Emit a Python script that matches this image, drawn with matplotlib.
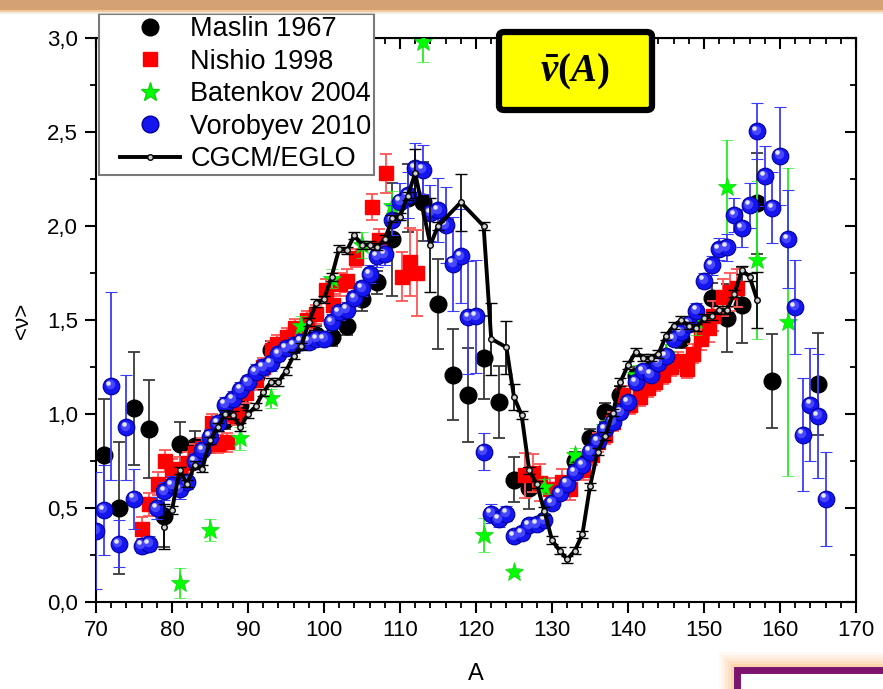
import matplotlib
matplotlib.use("Agg")
import matplotlib.pyplot as plt
import matplotlib.transforms as mtransforms
from matplotlib.lines import Line2D
from matplotlib.legend_handler import HandlerLine2D
from matplotlib.patches import Rectangle, FancyBboxPatch
from matplotlib.ticker import MultipleLocator, FuncFormatter

plt.rcParams["font.family"] = ["Liberation Sans", "DejaVu Sans"]
plt.rcParams["mathtext.fontset"] = "custom"
plt.rcParams["mathtext.it"] = "Liberation Serif:italic:bold"
plt.rcParams["mathtext.rm"] = "Liberation Serif:bold"

# Maslin 1967
maslin_a = [71, 73, 75, 77, 79, 81, 83, 85, 87, 89, 91, 93, 95, 97, 99, 101, 103,
            105, 107, 109, 111, 113, 115, 117, 119, 121, 123, 125, 127, 133, 135,
            137, 139, 141, 143, 145, 147, 149, 151, 153, 155, 157, 159, 165]
maslin_nu = [0.78, 0.50, 1.03, 0.92, 0.46, 0.84, 0.83, 0.85, 0.97, 1.05, 1.20, 1.34,
             1.36, 1.40, 1.42, 1.41, 1.47, 1.61, 1.70, 1.93, 2.15, 2.13, 1.585, 1.21,
             1.10, 1.30, 1.065, 0.65, 0.605, 0.75, 0.87, 1.01, 1.10, 1.20, 1.24,
             1.26, 1.40, 1.50, 1.615, 1.51, 1.58, 2.12, 1.175, 1.16]
maslin_err = [0.30, 0.35, 0.30, 0.26, 0.17, 0.12, 0.08, 0.06, 0.05, 0.05, 0.05, 0.05,
              0.05, 0.05, 0.05, 0.05, 0.05, 0.06, 0.06, 0.30, 0.18, 0.21, 0.24, 0.24,
              0.25, 0.22, 0.19, 0.12, 0.11, 0.05, 0.05, 0.05, 0.05, 0.05, 0.05,
              0.05, 0.05, 0.06, 0.08, 0.18, 0.20, 0.27, 0.25, 0.27]

# Nishio 1998
nishio_a = [76.0, 77.0, 78.2, 79.1, 80.0, 81.0, 82.1, 83.0, 84.0, 85.2, 86.1, 87.2,
            88.0, 88.5, 89.8, 91.1, 92.0, 93.1, 93.8, 95.1, 96.2, 97.7, 99.0, 100.3,
            101.2, 102.1, 103.0, 104.2, 106.3, 107.3, 108.2, 110.2, 111.3, 112.3,
            126.4, 127.5, 128.4, 129.7, 131.3, 132.4, 134.1, 135.2, 136.0, 137.0,
            138.0, 139.4, 140.3, 141.6, 142.6, 143.6, 144.6, 145.6, 146.6, 147.7,
            148.6, 149.6, 150.6, 151.2, 152.5, 153.4, 154.3]
nishio_nu = [0.39, 0.52, 0.63, 0.75, 0.70, 0.71, 0.74, 0.79, 0.82, 0.95, 0.84, 0.85,
             1.00, 0.99, 1.11, 1.18, 1.25, 1.34, 1.37, 1.41, 1.455, 1.50, 1.53, 1.66,
             1.58, 1.69, 1.71, 1.83, 2.10, 1.925, 2.28, 1.73, 1.81, 1.75,
             0.675, 0.685, 0.635, 0.60, 0.64, 0.60, 0.70, 0.78, 0.85, 0.89,
             0.96, 1.10, 1.05, 1.09, 1.14, 1.17, 1.21, 1.25, 1.28, 1.24,
             1.32, 1.40, 1.455, 1.52, 1.62, 1.65, 1.67]
nishio_err = [0.06, 0.06, 0.06, 0.06, 0.06, 0.06, 0.06, 0.05, 0.05, 0.05, 0.05, 0.05,
              0.05, 0.05, 0.05, 0.05, 0.05, 0.05, 0.05, 0.05, 0.05, 0.05, 0.05, 0.06,
              0.06, 0.06, 0.06, 0.05, 0.07, 0.06, 0.105, 0.13, 0.18, 0.23,
              0.12, 0.10, 0.10, 0.06, 0.07, 0.06, 0.05, 0.05, 0.05, 0.05,
              0.05, 0.05, 0.05, 0.05, 0.05, 0.05, 0.05, 0.05, 0.05, 0.05,
              0.05, 0.06, 0.07, 0.08, 0.10, 0.10, 0.10]

# Batenkov 2004
batenkov_a = [81, 85, 89, 93, 97, 101, 105, 109, 113, 121, 125, 129, 133, 137, 141,
              145, 149, 153, 157, 161]
batenkov_nu = [0.10, 0.383, 0.87, 1.083, 1.47, 1.72, 1.90, 2.106, 2.98, 0.356, 0.16,
               0.613, 0.78, 0.93, 1.21, 1.32, 1.50, 2.21, 1.82, 1.49]
batenkov_err = [0.08, 0.06, 0.06, 0.05, 0.05, 0.05, 0.07, 0.08, 0.11, 0.09, 0.02,
                0.04, 0.04, 0.04, 0.05, 0.05, 0.08, 0.25, 0.42, 0.82]

# Vorobyev 2010
vorobyev_a = [70, 71, 72, 73, 74, 75, 76, 77, 78, 79, 80, 81, 82, 83, 84, 85, 86, 87,
              88, 89, 90, 91, 92, 93, 94, 95, 96, 97, 98, 99, 100, 101, 102, 103,
              104, 105, 106, 107, 108, 109, 110, 111, 112, 113, 114, 115, 116, 117,
              118, 119, 120, 121, 122, 123, 124, 125, 126, 127, 128, 129, 130, 131,
              132, 133, 134, 135, 136, 137, 138, 139, 140, 141, 142, 143, 144, 145,
              146, 147, 148, 149, 150, 151, 152, 153, 154, 155, 156, 157, 158, 159,
              160, 161, 162, 163, 164, 165, 166]
vorobyev_nu = [0.38, 0.49, 1.15, 0.31, 0.93, 0.55, 0.30, 0.31, 0.50, 0.59, 0.62, 0.60,
               0.64, 0.75, 0.81, 0.88, 0.95, 1.05, 1.08, 1.13, 1.17, 1.225, 1.25,
               1.27, 1.32, 1.35, 1.367, 1.385, 1.385, 1.40, 1.40, 1.49, 1.54, 1.555,
               1.615, 1.67, 1.745, 1.84, 1.85, 2.03, 2.13, 2.165, 2.31, 2.30, 2.07,
               2.085, 2.005, 1.80, 1.84, 1.515, 1.52, 0.80, 0.47, 0.44, 0.47, 0.35,
               0.365, 0.41, 0.415, 0.436, 0.528, 0.578, 0.63, 0.69, 0.73, 0.80, 0.856,
               0.92, 0.96, 1.01, 1.065, 1.17, 1.23, 1.21, 1.27, 1.31, 1.40, 1.435,
               1.48, 1.55, 1.71, 1.79, 1.878, 1.886, 2.06, 1.99, 2.11, 2.505, 2.266,
               2.097, 2.374, 1.93, 1.57, 0.89, 1.05, 0.99, 0.55]
vorobyev_err = [0.31, 0.24, 0.50, 0.125, 0.28, 0.16, 0.04, 0.04, 0.06, 0.05, 0.05,
                0.05, 0.04, 0.04, 0.04, 0.04, 0.04, 0.04, 0.04, 0.04, 0.04, 0.04,
                0.04, 0.04, 0.04, 0.04, 0.04, 0.04, 0.04, 0.04, 0.04, 0.04, 0.04,
                0.04, 0.04, 0.04, 0.05, 0.06, 0.06, 0.08, 0.10, 0.12, 0.13, 0.13,
                0.15, 0.17, 0.20, 0.25, 0.25, 0.30, 0.30, 0.10, 0.05, 0.04, 0.04,
                0.03, 0.03, 0.03, 0.03, 0.03, 0.03, 0.03, 0.03, 0.03, 0.03, 0.03,
                0.03, 0.03, 0.03, 0.03, 0.03, 0.03, 0.03, 0.03, 0.03, 0.03, 0.03,
                0.03, 0.03, 0.04, 0.04, 0.05, 0.06, 0.07, 0.09, 0.10, 0.12, 0.15,
                0.16, 0.19, 0.26, 0.26, 0.25, 0.30, 0.30, 0.33, 0.25]

# CGCM/EGLO calculation
cgcm_a = [79, 80, 81, 82, 83, 84, 85, 86, 87, 88, 89, 90, 91, 92, 93, 94, 95, 96, 97,
          98, 99, 100, 101, 102, 103, 104, 105, 106, 107, 108, 109, 110, 111, 112,
          114, 115, 118, 121, 122, 124, 125, 126, 127, 128, 129, 130, 131, 132, 133,
          134, 135, 136, 137, 138, 139, 140, 141, 142, 143, 144, 145, 146, 147, 148,
          149, 150, 151, 152, 153, 154, 155, 156, 157]
cgcm_nu = [0.40, 0.49, 0.70, 0.63, 0.73, 0.71, 0.86, 0.93, 1.00, 0.995, 0.93, 1.00,
           1.04, 1.115, 1.17, 1.17, 1.23, 1.31, 1.36, 1.49, 1.59, 1.61, 1.73, 1.88,
           1.87, 1.95, 1.90, 1.90, 1.89, 1.93, 2.04, 2.05, 2.16, 2.28, 1.90, 2.00,
           2.126, 2.00, 1.40, 1.355, 1.09, 0.995, 0.70, 0.626, 0.484, 0.33, 0.273,
           0.227, 0.273, 0.36, 0.615, 0.80, 0.883, 1.007, 1.17, 1.26, 1.33, 1.30,
           1.30, 1.32, 1.415, 1.47, 1.50, 1.47, 1.46, 1.51, 1.52, 1.553, 1.553, 1.64,
           1.766, 1.73, 1.606]
cgcm_err = [0.12, 0.02, 0.02, 0.02, 0.02, 0.02, 0.02, 0.02, 0.02, 0.02, 0.02, 0.02,
            0.02, 0.02, 0.02, 0.02, 0.02, 0.02, 0.02, 0.02, 0.02, 0.02, 0.02, 0.02,
            0.02, 0.02, 0.02, 0.02, 0.02, 0.02, 0.02, 0.02, 0.02, 0.13, 0.25, 0.02,
            0.15, 0.02, 0.19, 0.14, 0.07, 0.02, 0.02, 0.02, 0.02, 0.02, 0.02, 0.02,
            0.02, 0.02, 0.02, 0.02, 0.02, 0.02, 0.02, 0.02, 0.02, 0.02, 0.02, 0.02,
            0.02, 0.02, 0.02, 0.02, 0.02, 0.02, 0.02, 0.02, 0.02, 0.02, 0.02, 0.02,
            0.15]

W, H = 883, 689


def fx(x):
    return x / W


def fy(y):
    return 1 - y / H


fig = plt.figure(figsize=(W / 100, H / 100), dpi=100)
ax = fig.add_axes([fx(96), fy(602), fx(856) - fx(96), fy(38) - fy(602)])

eb = dict(capsize=4, elinewidth=1.3, capthick=1.3, linestyle="none")
ax.errorbar(maslin_a, maslin_nu, yerr=maslin_err, fmt="o", ms=12, color="black",
            ecolor="#3a3a3a", zorder=2, **eb)
ax.errorbar(nishio_a, nishio_nu, yerr=nishio_err, fmt="s", ms=9.5, color="#ff0000",
            mec="#ff0000", ecolor="#ff5555", zorder=3, **eb)
ax.errorbar(batenkov_a, batenkov_nu, yerr=batenkov_err, fmt="*", ms=14,
            color="#00ff00", mec="#10d010", mew=0.5, ecolor="#22ee22", zorder=4, **eb)
ax.errorbar(vorobyev_a, vorobyev_nu, yerr=vorobyev_err, fmt="o", ms=12,
            color="#1515f0", mec="#0000a0", mew=0.8, ecolor="#3b3bff", zorder=5, **eb)

# shading on the blue spheres
shift1 = ax.transData + mtransforms.ScaledTranslation(-1 / 72, 1 / 72, fig.dpi_scale_trans)
shift2 = ax.transData + mtransforms.ScaledTranslation(-2 / 72, 2.3 / 72, fig.dpi_scale_trans)
ax.plot(vorobyev_a, vorobyev_nu, "o", ms=6.8, color="#4d4dff", mew=0, alpha=0.9,
        transform=shift1, zorder=5.1)
ax.plot(vorobyev_a, vorobyev_nu, "o", ms=3.3, color="#e6e6ff", mew=0,
        transform=shift2, zorder=5.2)

ax.errorbar(cgcm_a, cgcm_nu, yerr=cgcm_err, fmt="-o", color="black", lw=2.8,
            ms=4, mfc="#d0d0d0", mec="black", mew=1, ecolor="black", capsize=4,
            elinewidth=1.2, capthick=1.2, zorder=6)

ax.set_xlim(70, 170)
ax.set_ylim(0, 3.0)
ax.xaxis.set_major_locator(MultipleLocator(10))
ax.xaxis.set_minor_locator(MultipleLocator(2))
ax.yaxis.set_major_locator(MultipleLocator(0.5))
ax.yaxis.set_minor_locator(MultipleLocator(0.25))
ax.yaxis.set_major_formatter(FuncFormatter(lambda v, p: f"{v:.1f}".replace(".", ",")))
ax.tick_params(which="major", direction="out", length=8, width=1.5, labelsize=16,
               pad=5)
ax.tick_params(which="minor", direction="out", length=4.5, width=1.3)
for s in ax.spines.values():
    s.set_linewidth(1.5)

top = ax.secondary_xaxis("top")
top.xaxis.set_major_locator(MultipleLocator(10))
top.xaxis.set_minor_locator(MultipleLocator(2))
top.tick_params(which="major", direction="in", length=8, width=1.5, labeltop=False)
top.tick_params(which="minor", direction="in", length=4.5, width=1.3)
right = ax.secondary_yaxis("right")
right.yaxis.set_major_locator(MultipleLocator(0.5))
right.yaxis.set_minor_locator(MultipleLocator(0.25))
right.tick_params(which="major", direction="in", length=8, width=1.5, labelright=False)
right.tick_params(which="minor", direction="in", length=4.5, width=1.3)

ax.set_xlabel("A", fontsize=17, labelpad=16)
ax.set_ylabel("<\u03bd>", fontsize=16, labelpad=10)

handles = [
    Line2D([], [], ls="none", marker="o", ms=12, color="black"),
    Line2D([], [], ls="none", marker="s", ms=9.5, color="#ff0000"),
    Line2D([], [], ls="none", marker="*", ms=14, color="#00ff00", mec="#10d010"),
    Line2D([], [], ls="none", marker="o", ms=12, color="#1515f0", mec="#0000a0"),
    Line2D([], [], ls="-", lw=2.8, marker="o", ms=4, color="black", mfc="#d0d0d0"),
]
labels = ["Maslin 1967", "Nishio 1998", "Batenkov 2004", "Vorobyev 2010", "CGCM/EGLO"]
leg = ax.legend(handles, labels, loc="lower left", bbox_to_anchor=(fx(99), fy(175)),
                bbox_transform=fig.transFigure, borderaxespad=0, fontsize=19.5,
                labelspacing=0.24, handlelength=2.9, handletextpad=0.37,
                borderpad=0.1, fancybox=False, framealpha=1, edgecolor="#7a7a7a",
                handler_map={Line2D: HandlerLine2D(xpad=0.68)})
leg.get_frame().set_linewidth(1.5)
leg.set_zorder(10)

# yellow label box
box = FancyBboxPatch((fx(499), fy(110)), fx(652) - fx(499), fy(32) - fy(110),
                     boxstyle="round,pad=0,rounding_size=0.006", transform=fig.transFigure,
                     fc="#ffff00", ec="black", lw=4.5, zorder=20)
fig.patches.append(box)
fig.text(fx(575), fy(72), r"$\bar{\nu}(A)$", fontsize=28, ha="center", va="center",
         zorder=21)

# header strip cut off at the top edge
fig.patches.append(Rectangle((0, fy(14)), 1, fy(12) - fy(14), transform=fig.transFigure,
                             fc="#ede3d8", ec="none", alpha=0.7, zorder=20))
fig.patches.append(Rectangle((0, fy(12)), 1, fy(0) - fy(12) + 0.01,
                             transform=fig.transFigure, fc="#d4a272", ec="none", zorder=21))
fig.patches.append(Rectangle((0, fy(12)), 1, fy(10) - fy(12), transform=fig.transFigure,
                             fc="#f2c99c", ec="none", zorder=22))

# framed panel in the lower right corner with an orange glow
for i, a in enumerate([0.10, 0.14, 0.2, 0.28, 0.38]):
    g = 16 - 3 * i
    fig.patches.append(Rectangle((fx(735 - g), fy(H + 5)), 1, fy(668 - g) - fy(H + 5),
                                 transform=fig.transFigure, fc="#ffc890", ec="none",
                                 alpha=a, zorder=20))
fig.patches.append(Rectangle((fx(737), fy(H + 10)), 1, fy(670) - fy(H + 10),
                             transform=fig.transFigure, fc="white", ec="#7d1470",
                             lw=5, zorder=21))

fig.savefig("out.png", dpi=100)
